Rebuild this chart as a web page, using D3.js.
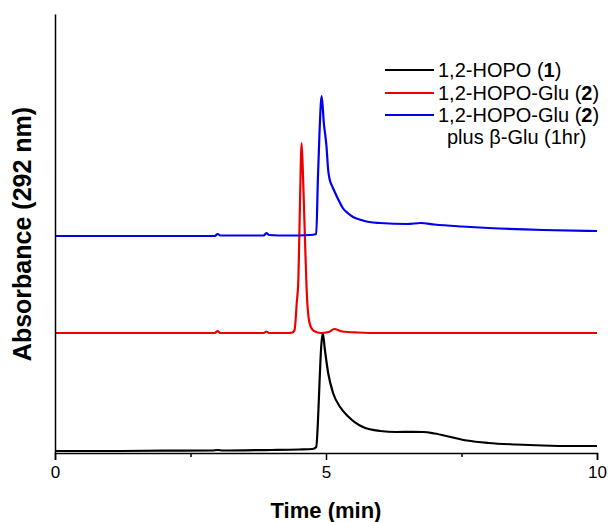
<!DOCTYPE html>
<html>
<head>
<meta charset="utf-8">
<script src="https://cdn.jsdelivr.net/npm/d3@7/dist/d3.min.js"></script>
<style>
  html, body { margin: 0; padding: 0; background: #fff; }
  svg { display: block; font-family: "Liberation Sans", Arial, sans-serif; }
</style>
</head>
<body>
<svg id="chart" width="613" height="522"></svg>
<script>
// ---- Data ----
const xTicks = [0, 5, 10];
const xMinorTicks = [2.5, 7.5];

const blackTime = [0, 1, 2, 2.9, 3.0, 3.1, 3.5, 4.0, 4.5, 4.75, 4.82, 4.85, 4.88, 4.91, 4.94, 4.98, 5.04, 5.13, 5.26, 5.4, 5.68, 6.0, 6.3, 6.6, 6.8, 7.0, 7.3, 7.6, 8.0, 8.5, 9.0, 9.5, 10];
const blackValues = [2, 2, 2.3, 2.5, 3, 2.5, 2.7, 3, 3.5, 4, 6, 30, 70, 105, 120, 103, 80, 60, 46, 37, 26, 22, 21, 21.2, 21, 19.5, 16, 12.5, 10, 8.5, 7.5, 7, 7];

const redTime = [0, 1, 2, 2.95, 3.0, 3.05, 3.5, 3.85, 3.9, 3.95, 4.3, 4.38, 4.42, 4.46, 4.49, 4.52, 4.55, 4.58, 4.62, 4.65, 4.68, 4.72, 4.78, 4.9, 5.05, 5.15, 5.3, 5.6, 6, 7, 8, 9, 10];
const redValues = [120, 120, 120, 120, 122, 120, 120, 120, 121.5, 120, 120, 120.5, 123, 150, 173, 250, 310, 270, 200, 155, 135, 126, 122, 120, 121, 124, 121.5, 120.5, 120, 120, 120, 120, 120];

const blueTime = [0, 1, 2, 2.95, 3.0, 3.05, 3.5, 3.85, 3.9, 3.95, 4.3, 4.7, 4.82, 4.85, 4.88, 4.92, 4.96, 5.01, 5.04, 5.07, 5.12, 5.17, 5.25, 5.31, 5.4, 5.5, 5.65, 5.8, 6.0, 6.5, 6.75, 7.0, 7.5, 8.0, 9.0, 10];
const blueValues = [217, 217, 217, 217, 219, 217.5, 217.5, 217.5, 220, 218, 217.5, 218, 219, 273, 320, 357, 330, 306, 283, 273, 266, 260, 251, 245, 240, 236, 233, 231, 230, 229, 230, 228.5, 226.5, 225, 223, 222];

const seriesNames = ["1,2-HOPO (", "1,2-HOPO-Glu (", "1,2-HOPO-Glu ("];
const seriesBold = ["1", "2", "2"];
const seriesExtra = ["", "", "plus β-Glu (1hr)"];
const seriesColors = ["#000000", "#ee0000", "#0000ee"];

// ---- Layout ----
const svg = d3.select("#chart");
const x = d3.scaleLinear().domain([0, 10]).range([55, 597]);
const y = d3.scaleLinear().domain([0, 439]).range([453, 14]);

const series = [
  { t: blackTime, v: blackValues },
  { t: redTime, v: redValues },
  { t: blueTime, v: blueValues }
];

const line = d3.line()
  .x(d => x(d[0]))
  .y(d => y(d[1]))
  .curve(d3.curveMonotoneX);

// traces
series.forEach((s, i) => {
  const pts = s.t.map((t, j) => [t, s.v[j]]);
  svg.append("path")
    .datum(pts)
    .attr("d", line)
    .attr("fill", "none")
    .attr("stroke", seriesColors[i])
    .attr("stroke-width", 2.2)
    .attr("stroke-linejoin", "round");
});

// x axis
const xAxis = d3.axisBottom(x).tickValues(xTicks).tickSize(7).tickPadding(6).tickFormat(d3.format("d"));
const gx = svg.append("g").attr("transform", "translate(0,453)").call(xAxis);
gx.select(".domain").attr("stroke", "#000").attr("stroke-width", 1.5);
gx.selectAll(".tick line").attr("stroke", "#000").attr("stroke-width", 1.5);
gx.selectAll(".tick text").attr("font-size", 17).attr("fill", "#000")
  .attr("font-family", "Liberation Sans, Arial, sans-serif");
const gxm = svg.append("g").attr("transform", "translate(0,453)")
  .call(d3.axisBottom(x).tickValues(xMinorTicks).tickSize(4).tickFormat(""));
gxm.select(".domain").remove();
gxm.selectAll(".tick line").attr("stroke", "#000").attr("stroke-width", 1.5);

// y axis (no ticks)
const gy = svg.append("g").attr("transform", "translate(55,0)")
  .call(d3.axisLeft(y).tickValues([]).tickSizeOuter(0));
gy.select(".domain").attr("stroke", "#000").attr("stroke-width", 1.5);

// axis titles
svg.append("text")
  .attr("x", 326).attr("y", 518)
  .attr("text-anchor", "middle")
  .attr("font-size", 22).attr("font-weight", "bold")
  .text("Time (min)");

svg.append("text")
  .attr("transform", "translate(31,234) rotate(-90)")
  .attr("text-anchor", "middle")
  .attr("font-size", 25).attr("font-weight", "bold")
  .text("Absorbance (292 nm)");

// legend
const legendRows = [70, 93, 115];
series.forEach((s, i) => {
  const cy = legendRows[i];
  svg.append("line")
    .attr("x1", 385).attr("x2", 434)
    .attr("y1", cy).attr("y2", cy)
    .attr("stroke", seriesColors[i]).attr("stroke-width", 2);
  const t = svg.append("text")
    .attr("x", 438).attr("y", cy + 7)
    .attr("font-size", 20);
  t.append("tspan").text(seriesNames[i]);
  t.append("tspan").attr("font-weight", "bold").text(seriesBold[i]);
  t.append("tspan").text(")");
  if (seriesExtra[i]) {
    svg.append("text")
      .attr("x", 447).attr("y", cy + 29)
      .attr("font-size", 20)
      .text(seriesExtra[i]);
  }
});
</script>
</body>
</html>
